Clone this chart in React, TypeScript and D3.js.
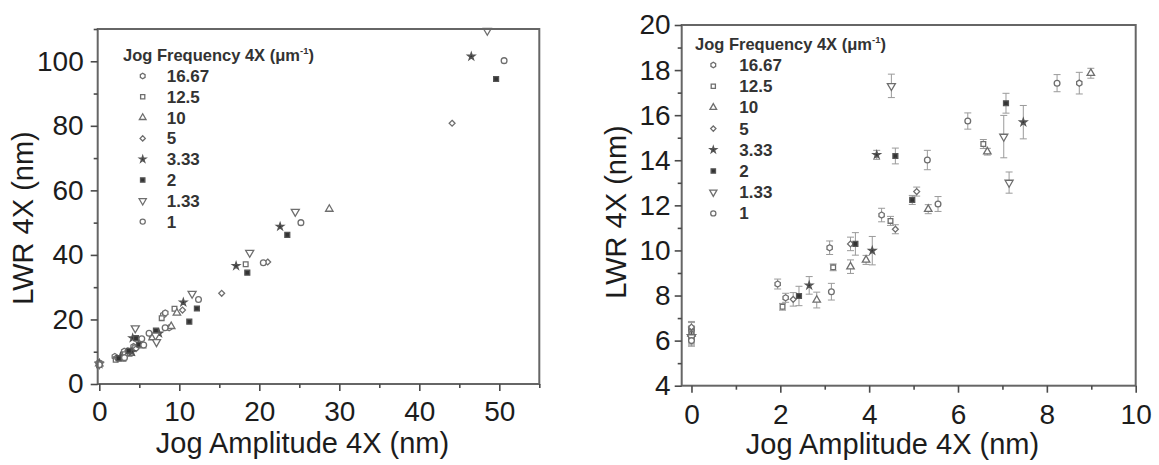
import { useEffect, useRef } from "react";
import * as d3 from "d3";

const FONT = "'Liberation Sans', Arial, Helvetica, sans-serif";

const FREQ_LABELS = ["16.67", "12.5", "10", "5", "3.33", "2", "1.33", "1"];

// jog amplitude < 10 nm (both panels, error bars on the right one)
const amp1667 = [0, 1.94, 2.12, 3.11, 4.28, 8.73];
const lwr1667 = [6.5, 8.51, 7.9, 10.12, 11.57, 17.42];
const err1667 = [0.3, 0.22, 0.2, 0.3, 0.3, 0.48];

const amp125 = [0, 2.05, 3.19, 4.48, 6.57];
const lwr125 = [6.4, 7.5, 9.25, 11.31, 14.72];
const err125 = [0.25, 0.15, 0.15, 0.2, 0.2];

const amp10 = [0, 2.82, 3.58, 3.93, 5.33, 6.66, 8.99];
const lwr10 = [6.3, 7.8, 9.28, 9.58, 11.83, 14.38, 17.86];
const err10 = [0.25, 0.35, 0.3, 0.2, 0.2, 0.15, 0.22];

const amp5 = [0, 2.29, 3.58, 4.59, 5.07];
const lwr5 = [6.6, 7.83, 10.29, 10.94, 12.61];
const err5 = [0.25, 0.3, 0.3, 0.2, 0.2];

const amp333 = [0, 2.65, 4.07, 4.17, 7.47];
const lwr333 = [6.2, 8.45, 9.99, 14.24, 15.69];
const err333 = [0.3, 0.39, 0.63, 0.2, 0.74];

const amp2 = [0, 2.42, 3.69, 4.59, 4.97, 7.08];
const lwr2 = [6.1, 7.98, 10.29, 14.19, 12.24, 16.53];
const err2 = [0.3, 0.43, 0.5, 0.35, 0.2, 0.44];

const amp133 = [0, 4.5, 7.03, 7.15];
const lwr133 = [6.15, 17.3, 15.05, 13.01];
const err133 = [0.3, 0.52, 0.94, 0.47];

const amp1 = [0, 3.15, 5.31, 5.55, 6.22, 8.23];
const lwr1 = [6.0, 8.17, 14.01, 12.06, 15.74, 17.42];
const err1 = [0.25, 0.37, 0.43, 0.33, 0.36, 0.38];

// larger jogs, only visible on the left panel
const bigAmp1667 = [8.0, 8.25];
const bigLwr1667 = [21.4, 22.0];
const bigAmp125 = [7.8, 9.4, 18.3];
const bigLwr125 = [20.4, 23.3, 37.1];
const bigAmp10 = [9.7, 28.75];
const bigLwr10 = [22.0, 54.2];
const bigAmp5 = [10.4, 15.3, 21.05, 44.1];
const bigLwr5 = [22.9, 28.1, 37.8, 80.8];
const bigAmp333 = [10.5, 17.1, 22.6, 46.5];
const bigLwr333 = [25.3, 36.6, 48.8, 101.5];
const bigAmp2 = [11.25, 12.2, 18.5, 23.5, 49.6];
const bigLwr2 = [19.3, 23.4, 34.5, 46.2, 94.5];
const bigAmp133 = [11.6, 18.8, 24.5, 48.5];
const bigLwr133 = [28.0, 40.7, 53.4, 109.5];
const bigAmp1 = [12.4, 20.5, 25.2, 50.6];
const bigLwr1 = [26.2, 37.6, 50.0, 100.2];

const hexagon = {
  draw(ctx: any, size: number) {
    const r = Math.sqrt((2 * size) / (3 * Math.sqrt(3)));
    for (let i = 0; i < 6; i++) {
      const a = (Math.PI / 3) * i + Math.PI / 6;
      if (i === 0) ctx.moveTo(r * Math.cos(a), r * Math.sin(a));
      else ctx.lineTo(r * Math.cos(a), r * Math.sin(a));
    }
    ctx.closePath();
  },
};

type Shape = { type: any; flip?: boolean; filled?: boolean; size: number };

const SHAPES: Shape[] = [
  { type: hexagon, size: 24 },
  { type: d3.symbolSquare, size: 22 },
  { type: d3.symbolTriangle, size: 24 },
  { type: d3.symbolDiamond2, size: 22 },
  { type: d3.symbolStar, size: 16, filled: true },
  { type: d3.symbolSquare, size: 24, filled: true },
  { type: d3.symbolTriangle, size: 28, flip: true },
  { type: d3.symbolCircle, size: 26 },
];

const SERIES = [
  [amp1667, lwr1667, err1667, bigAmp1667, bigLwr1667],
  [amp125, lwr125, err125, bigAmp125, bigLwr125],
  [amp10, lwr10, err10, bigAmp10, bigLwr10],
  [amp5, lwr5, err5, bigAmp5, bigLwr5],
  [amp333, lwr333, err333, bigAmp333, bigLwr333],
  [amp2, lwr2, err2, bigAmp2, bigLwr2],
  [amp133, lwr133, err133, bigAmp133, bigLwr133],
  [amp1, lwr1, err1, bigAmp1, bigLwr1],
].map(([amp, lwr, err, bAmp, bLwr], i) => ({
  label: FREQ_LABELS[i],
  shape: SHAPES[i],
  small: amp.map((a, j) => ({ x: a, y: lwr[j], e: err[j] })),
  big: bAmp.map((a, j) => ({ x: a, y: bLwr[j], e: 0 })),
}));

const Marker = ({ shape, x, y, scale = 1 }: any) => {
  const path = d3.symbol(shape.type, shape.size * scale)() as string;
  return (
    <path
      d={path}
      transform={`translate(${x},${y})${shape.flip ? " rotate(180)" : ""}`}
      fill={shape.filled ? "#333" : "#fff"}
      stroke={shape.filled ? "#555" : "#6e6e6e"}
      strokeWidth={1.3}
    />
  );
};

type PanelProps = {
  left: number; top: number; width: number; height: number;
  xDomain: number[]; yDomain: number[];
  xMajor: number[]; xMinor: number[]; yMajor: number[]; yMinor: number[];
  xPad: number; yPad: number; fontSize: number;
  detail: boolean;
  legend: { x: number; y: number; dy: number; titleY: number; symX: number; textX: number };
  yTitle: { x: number; y: number }; xTitle: { x: number; y: number };
};

const Panel = (p: PanelProps) => {
  const axesRef = useRef<SVGGElement>(null);
  const xScale = d3.scaleLinear().domain(p.xDomain).range([0, p.width]);
  const yScale = d3.scaleLinear().domain(p.yDomain).range([p.height, 0]);

  useEffect(() => {
    const g = d3.select(axesRef.current);
    g.selectAll("*").remove();
    const style = (sel: any) => {
      sel.select(".domain").remove();
      sel.selectAll("line").attr("stroke", "#4a4a4a").attr("stroke-width", 1.6);
      sel.selectAll("text")
        .attr("font-size", p.fontSize)
        .attr("font-family", FONT)
        .attr("fill", "#1c1c1c");
    };
    g.append("g").attr("transform", `translate(0,${p.height})`)
      .call(d3.axisBottom(xScale).tickValues(p.xMinor).tickSize(4).tickFormat(() => ""))
      .call(style);
    g.append("g").attr("transform", `translate(0,${p.height})`)
      .call(d3.axisBottom(xScale).tickValues(p.xMajor).tickSize(7).tickPadding(p.xPad).tickFormat(d3.format("d")))
      .call(style);
    g.append("g")
      .call(d3.axisLeft(yScale).tickValues(p.yMinor).tickSize(4).tickFormat(() => ""))
      .call(style);
    g.append("g")
      .call(d3.axisLeft(yScale).tickValues(p.yMajor).tickSize(7).tickPadding(p.yPad).tickFormat(d3.format("d")))
      .call(style);
  }, [p]);

  const points = SERIES.flatMap((s) =>
    (p.detail ? s.small : [...s.small, ...s.big])
      .filter((d) => d.x <= p.xDomain[1] && d.y <= p.yDomain[1] + 1)
      .map((d) => ({ ...d, shape: s.shape })),
  );

  return (
    <g transform={`translate(${p.left},${p.top})`}>
      {p.detail &&
        points.map((d, i) => {
          const cx = xScale(d.x);
          return (
            <g key={`e${i}`} stroke="#9a9a9a" strokeWidth={1}>
              <line x1={cx} x2={cx} y1={yScale(d.y - d.e)} y2={yScale(d.y + d.e)} />
              <line x1={cx - 3.5} x2={cx + 3.5} y1={yScale(d.y - d.e)} y2={yScale(d.y - d.e)} />
              <line x1={cx - 3.5} x2={cx + 3.5} y1={yScale(d.y + d.e)} y2={yScale(d.y + d.e)} />
            </g>
          );
        })}
      {points.map((d, i) => (
        <Marker key={i} shape={d.shape} x={xScale(d.x)} y={yScale(d.y)} />
      ))}
      <rect x={0} y={0} width={p.width} height={p.height} fill="none" stroke="#666" strokeWidth={2} />
      <g ref={axesRef} />
      <g fontFamily={FONT} fontWeight="bold" fill="#333">
        <text x={p.legend.x} y={p.legend.titleY} fontSize={16.5}>
          Jog Frequency 4X (μm
          <tspan fontSize={9.5} dy={-7}>-1</tspan>
          <tspan dy={7}>)</tspan>
        </text>
        {SERIES.map((s, i) => (
          <g key={s.label}>
            <Marker shape={s.shape} x={p.legend.symX} y={p.legend.y + i * p.legend.dy} scale={0.8} />
            <text x={p.legend.textX} y={p.legend.y + i * p.legend.dy + 6} fontSize={17}>
              {s.label}
            </text>
          </g>
        ))}
      </g>
      <text
        transform={`translate(${p.yTitle.x},${p.yTitle.y}) rotate(-90)`}
        textAnchor="middle"
        fontFamily={FONT}
        fontSize={29}
        fill="#1c1c1c"
      >
        LWR 4X (nm)
      </text>
      <text x={p.xTitle.x} y={p.xTitle.y} textAnchor="middle" fontFamily={FONT} fontSize={29} fill="#1c1c1c">
        Jog Amplitude 4X (nm)
      </text>
    </g>
  );
};

const LEFT_PANEL: PanelProps = {
  left: 97.7, top: 29, width: 441.6, height: 355,
  xDomain: [-0.2, 55], yDomain: [0, 110],
  xMajor: [0, 10, 20, 30, 40, 50], xMinor: [5, 15, 25, 35, 45, 55],
  yMajor: [0, 20, 40, 60, 80, 100], yMinor: [10, 30, 50, 70, 90, 110],
  xPad: 10, yPad: 7, fontSize: 28, detail: false,
  legend: { x: 25.3, titleY: 32.3, y: 47, dy: 20.8, symX: 45, textX: 69 },
  yTitle: { x: -64.7, y: 189 }, xTitle: { x: 204.8, y: 424 },
};

const RIGHT_PANEL: PanelProps = {
  left: 681.7, top: 25, width: 454, height: 360.7,
  xDomain: [-0.22, 10], yDomain: [4, 20],
  xMajor: [0, 2, 4, 6, 8, 10], xMinor: [1, 3, 5, 7, 9],
  yMajor: [4, 6, 8, 10, 12, 14, 16, 18, 20], yMinor: [5, 7, 9, 11, 13, 15, 17, 19],
  xPad: 11, yPad: 4, fontSize: 28, detail: true,
  legend: { x: 13.3, titleY: 25, y: 40, dy: 21.2, symX: 31.6, textX: 57.6 },
  yTitle: { x: -55.7, y: 187 }, xTitle: { x: 210.8, y: 429 },
};

export default function App() {
  return (
    <svg width={1159} height={465} style={{ display: "block", position: "absolute", left: 0, top: 0 }}>
      <rect width={1159} height={465} fill="#fff" />
      <Panel {...LEFT_PANEL} />
      <Panel {...RIGHT_PANEL} />
    </svg>
  );
}
